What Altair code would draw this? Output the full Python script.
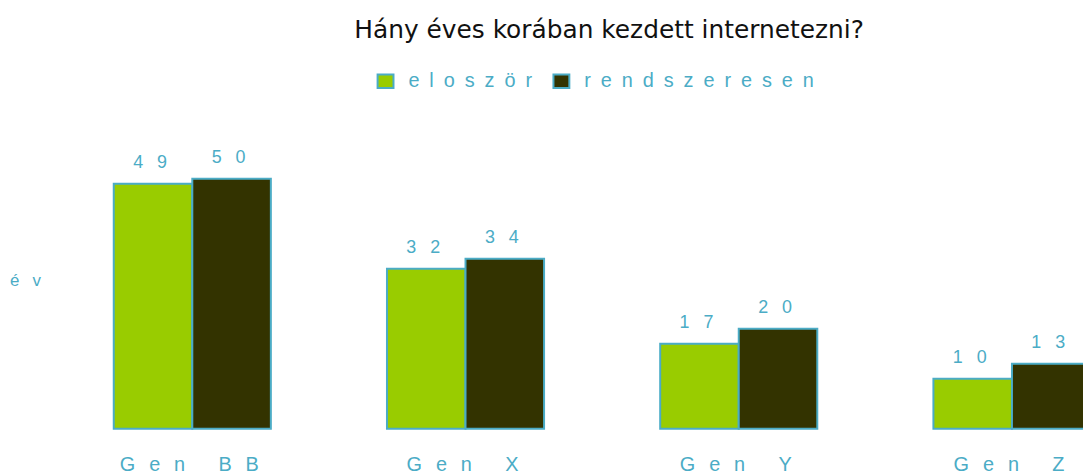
import altair as alt
import pandas as pd

categories = ["Gen BB", "Gen X", "Gen Y", "Gen Z"]
series = ["eloször", "rendszeresen"]
eloszor = [49, 32, 17, 10]
rendszeresen = [50, 34, 20, 13]

rows = []
for i, c in enumerate(categories):
    rows.append({"gen": c, "series": series[0], "value": eloszor[i]})
    rows.append({"gen": c, "series": series[1], "value": rendszeresen[i]})
df = pd.DataFrame(rows)

BLUE = "#4BACC6"
NB = "\u00a0"
SP_LEGEND = "\u2002"
SP_AXIS = "\u2002\u2009"
SP_VALUE = "\u2002\u00a0"


def spaced(field, sp):
    return f"join(split(replace({field}, ' ', '{NB}'), ''), '{sp}') + '{sp}'"


x = alt.X("gen:N", sort=categories,
          scale=alt.Scale(range=[0, 1100], paddingInner=0.425, paddingOuter=0.2125),
          axis=alt.Axis(title=None, labelAngle=0, domain=False, ticks=False,
                        labelExpr=spaced("datum.label", SP_AXIS), labelColor=BLUE,
                        labelFontSize=20, labelFont="Liberation Sans",
                        labelBaseline="alphabetic", labelPadding=42, labelOffset=-3))
xo = alt.XOffset("series:N", sort=series, scale=alt.Scale(paddingInner=0, paddingOuter=0))
y = alt.Y("value:Q", scale=alt.Scale(domain=[0, 60], nice=False),
          axis=alt.Axis(title="é" + SP_VALUE + "v" + SP_VALUE, titleAngle=0, titleColor=BLUE,
                        titleFontSize=17, titleFont="Liberation Sans", titleFontWeight="normal",
                        titleX=-31, titleY=153, titleAlign="center", titleBaseline="middle",
                        labels=False, ticks=False, domain=False, grid=False))

bars = alt.Chart(df).mark_bar(stroke=BLUE, strokeWidth=2).encode(
    x=x, xOffset=xo, y=y,
    color=alt.Color("series:N", sort=series,
                    scale=alt.Scale(domain=series, range=["#99CC00", "#333300"]),
                    legend=alt.Legend(title=None, orient="none", direction="horizontal",
                                      legendX=322, legendY=-58,
                                      symbolType="M-1,-0.85H1V0.85H-1Z", symbolSize=256,
                                      symbolStrokeColor=BLUE, symbolStrokeWidth=2,
                                      labelExpr=spaced("datum.label", SP_LEGEND),
                                      labelColor=BLUE, labelFontSize=20, labelOffset=13,
                                      labelLimit=0, labelFont="Liberation Sans",
                                      columnPadding=17))
)

labels = alt.Chart(df).transform_calculate(
    lbl=spaced("toString(datum.value)", SP_VALUE)
).mark_text(baseline="alphabetic", dy=-16, dx=-3, color=BLUE, fontSize=18,
            font="Liberation Sans").encode(
    x=x, xOffset=xo, y=y, text="lbl:N"
)

chart = alt.layer(bars, labels).properties(
    width=1034, height=302,
    title=alt.TitleParams("Hány éves korában kezdett internetezni?", fontSize=25,
                          font="DejaVu Sans", fontWeight="normal", color="#111111",
                          anchor="middle", frame="group", offset=28, dx=40),
    autosize=alt.AutoSizeParams(type="none"),
    padding={"left": 48, "top": 120, "right": 0, "bottom": 44},
).configure_view(stroke=None)

chart.save("out.html", embed_options={"renderer": "svg", "actions": False})
